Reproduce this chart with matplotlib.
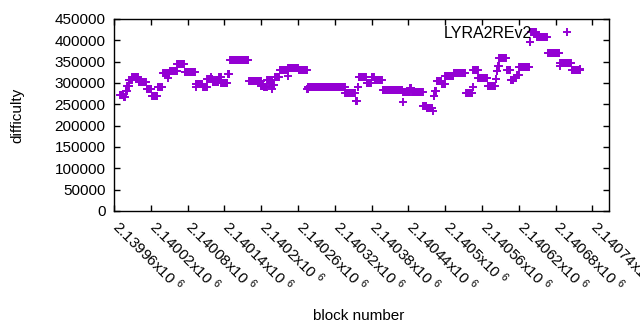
import numpy as np
import matplotlib
matplotlib.use("Agg")
import matplotlib.pyplot as plt
import matplotlib.transforms as mtransforms

plt.rcParams['font.family'] = ['Liberation Sans', 'DejaVu Sans']
plt.rcParams['mathtext.fontset'] = 'custom'
plt.rcParams['mathtext.rm'] = 'Liberation Sans'
plt.rcParams['mathtext.it'] = 'Liberation Sans'

# difficulty stays constant over runs of blocks: run start block and value
run_start = [2139970, 2139976, 2139979, 2139982, 2139985, 2139990, 2140000, 2140013,
             2140022, 2140031, 2140040, 2140051, 2140063, 2140075, 2140093, 2140105,
             2140112, 2140121, 2140131, 2140135, 2140146, 2140149, 2140180, 2140200,
             2140204, 2140210, 2140218, 2140222, 2140230, 2140244, 2140261, 2140275,
             2140277, 2140337, 2140354, 2140357, 2140359, 2140372, 2140380, 2140385,
             2140398, 2140431, 2140443, 2140446, 2140464, 2140470, 2140480, 2140481,
             2140483, 2140486, 2140494, 2140500, 2140514, 2140534, 2140545, 2140546,
             2140554, 2140569, 2140582, 2140584, 2140586, 2140588, 2140600, 2140607,
             2140612, 2140617, 2140621, 2140638, 2140640, 2140649, 2140667, 2140687,
             2140706]
run_end = 2140720
run_diff = [272000, 268000, 281000, 293000, 307000, 315000, 302000, 286000,
            270000, 290000, 323000, 328000, 345000, 326000, 298000, 291000,
            309000, 302000, 314000, 300000, 321000, 354000, 305000, 293000,
            291000, 307000, 295000, 314000, 330000, 335000, 330000, 286000,
            291000, 277000, 258000, 291000, 314000, 300000, 314000, 307000,
            284000, 279000, 288000, 279000, 246000, 241000, 234000, 270000,
            281000, 305000, 298000, 316000, 323000, 277000, 290000, 330000,
            312000, 293000, 310000, 328000, 340000, 359000, 330000, 307000,
            312000, 318000, 337000, 396000, 420000, 408000, 370000, 347000,
            330000]

# odd single blocks lying off the runs
odd_blocks = [2140048, 2140093, 2140118, 2140218, 2140244, 2140431, 2140687, 2140720]
odd_diff = [312000, 291000, 314000, 286000, 316000, 255000, 340000, 333000]

xticks = [2139960, 2140020, 2140080, 2140140, 2140200, 2140260, 2140320,
          2140380, 2140440, 2140500, 2140560, 2140620, 2140680, 2140740]
xtick_labels = ['2.13996', '2.14002', '2.14008', '2.14014', '2.1402', '2.14026', '2.14032',
                '2.14038', '2.14044', '2.1405', '2.14056', '2.14062', '2.14068', '2.14074']

#expand runs to one point per block
bounds = run_start + [run_end + 1]
blocks = []
diffs = []
for i in range(len(run_start)):
    for b in range(bounds[i], bounds[i+1]):
        blocks.append(b)
        diffs.append(run_diff[i])
blocks = blocks + odd_blocks
diffs = diffs + odd_diff

fig = plt.figure(figsize=(6.4, 3.3), dpi=100)
ax = fig.add_axes([114/640, 1-211/330, 495/640, 192/330])

ax.plot(blocks, diffs, linestyle='none', marker='+', markersize=6.2,
        markeredgewidth=1.4, color='#9400D3', label='LYRA2REv2')

ax.set_xlim(2139960, 2140767)
ax.set_ylim(0, 450000)
ax.set_yticks(np.arange(0, 450001, 50000))
ax.set_yticklabels([str(v) for v in range(0, 450001, 50000)], fontsize=11)
ax.set_xticks(xticks)
ax.set_xticklabels([t + 'x10 $^{6}$' for t in xtick_labels], fontsize=11,
                   rotation=-45, ha='left', va='top', rotation_mode='anchor')
ax.tick_params(direction='in', length=4, width=1, top=True, right=True, pad=6)
ax.tick_params(axis='x', pad=4)
#nudge rotated labels right so they start at the tick
shift = mtransforms.ScaledTranslation(8/100, 0, fig.dpi_scale_trans)
for lab in ax.get_xticklabels():
    lab.set_transform(lab.get_transform() + shift)
for s in ax.spines.values():
    s.set_linewidth(1)

fig.text(17/640, 1-115/330, 'difficulty', rotation=90, ha='center', va='center', fontsize=11)
fig.text(359/640, 1-316/330, 'block number', ha='center', va='center', fontsize=11)

ax.legend(loc='upper right', bbox_to_anchor=((583-114)/495, 1-7/192), frameon=False,
          markerfirst=False, fontsize=11.5, handlelength=2, handletextpad=1.2,
          borderaxespad=0, borderpad=0)

fig.savefig('out.png', dpi=100)
